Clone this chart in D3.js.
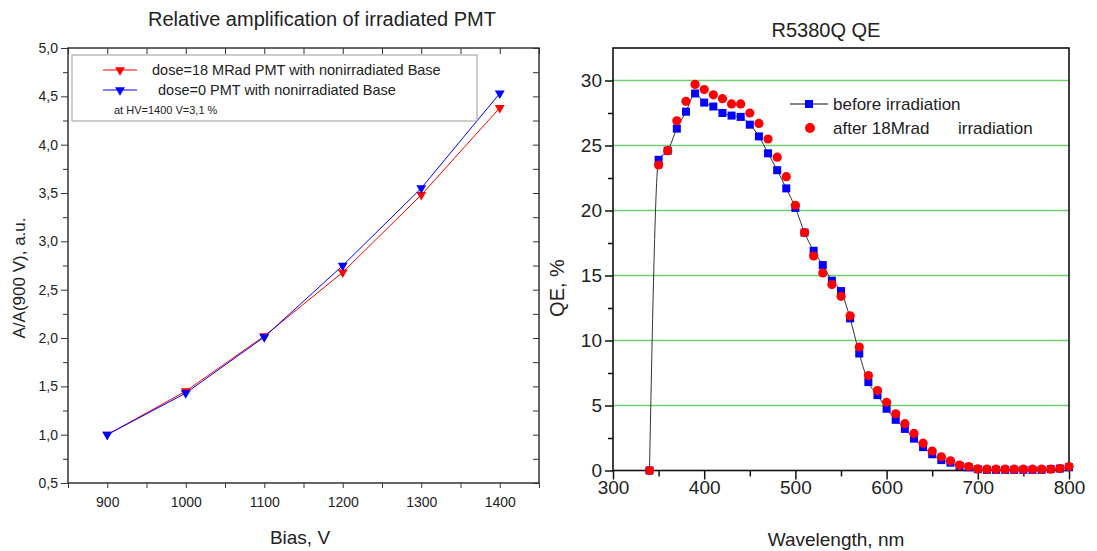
<!DOCTYPE html>
<meta charset="utf-8">
<script src="https://d3js.org/d3.v7.min.js"></script>
<style>
  body { margin: 0; background: #fff; }
  text { font-family: "Liberation Sans", Arial, sans-serif; fill: #222; }
</style>
<div id="charts"></div>
<script>

// ---- left chart: relative amplification vs bias
var bias = [900, 1000, 1100, 1200, 1300, 1400];
var ampIrradiated = [1.00, 1.45, 2.02, 2.68, 3.48, 4.38];
var ampReference = [1.00, 1.43, 2.01, 2.75, 3.55, 4.53];
var ampTicks = [0.5, 1.0, 1.5, 2.0, 2.5, 3.0, 3.5, 4.0, 4.5, 5.0];
var biasTicks = [900, 1000, 1100, 1200, 1300, 1400];

// ---- right chart: QE vs wavelength
var wavelength = [340, 350, 360, 370, 380, 390, 400, 410, 420, 430,
                  440, 450, 460, 470, 480, 490, 500, 510, 520, 530,
                  540, 550, 560, 570, 580, 590, 600, 610, 620, 630,
                  640, 650, 660, 670, 680, 690, 700, 710, 720, 730,
                  740, 750, 760, 770, 780, 790, 800];
var qeBefore = [0, 23.9, 24.6, 26.3, 27.6, 29.0, 28.3, 28.0, 27.5, 27.3,
                27.2, 26.6, 25.7, 24.4, 23.1, 21.7, 20.2, 18.3, 16.9, 15.8,
                14.6, 13.8, 11.7, 9.0, 6.8, 5.8, 4.75, 3.9, 3.2, 2.45,
                1.8, 1.25, 0.8, 0.6, 0.35, 0.25, 0.1, 0.05, 0.05, 0.05,
                0.05, 0.05, 0.05, 0.05, 0.1, 0.15, 0.25];
var qeAfter = [0, 23.5, 24.6, 26.9, 28.4, 29.7, 29.3, 28.9, 28.6, 28.2,
               28.2, 27.5, 26.7, 25.5, 24.1, 22.6, 20.4, 18.3, 16.5, 15.2,
               14.3, 13.4, 11.9, 9.5, 7.3, 6.15, 5.25, 4.36, 3.6, 2.85,
               2.1, 1.5, 1.05, 0.75, 0.42, 0.3, 0.12, 0.1, 0.1, 0.1,
               0.1, 0.1, 0.1, 0.1, 0.1, 0.15, 0.3];
var qeTicks = [0, 5, 10, 15, 20, 25, 30];
var wlTicks = [300, 400, 500, 600, 700, 800];

var svg = d3.select("#charts")
  .append("svg")
    .attr("width", 1097)
    .attr("height", 551);

function noDomain(g) { g.select(".domain").remove(); }

// ================= LEFT =================
var x1 = d3.scaleLinear().domain([850, 1450]).range([68, 539]);
var y1 = d3.scaleLinear().domain([0.5, 5.0]).range([483, 48]);
var comma = function(d) { return d3.format(".1f")(d).replace(".", ","); };

var left = svg.append("g");

var biasAll = d3.range(850, 1451, 50);
var ampAll = d3.range(0.5, 5.01, 0.25);

// bottom axis
left.append("g")
  .attr("transform", "translate(0," + y1(0.5) + ")")
  .call(d3.axisBottom(x1).tickValues(biasAll).tickSize(5).tickPadding(9)
    .tickFormat(function(d) { return biasTicks.indexOf(d) >= 0 ? d : ""; }))
  .call(noDomain)
  .call(function(g) {
    g.selectAll("line").attr("stroke", "#333");
    g.selectAll("text").style("font-size", "14px").attr("fill", "#333");
  });

// left axis
left.append("g")
  .attr("transform", "translate(" + x1(850) + ",0)")
  .call(d3.axisLeft(y1).tickValues(ampAll).tickPadding(4)
    .tickFormat(function(d) { return ampTicks.indexOf(+d.toFixed(2)) >= 0 ? comma(d) : ""; }))
  .call(noDomain)
  .call(function(g) {
    g.selectAll(".tick line")
      .attr("stroke", "#333")
      .attr("x2", function(d) { return ampTicks.indexOf(+d.toFixed(2)) >= 0 ? -7 : -5; });
    g.selectAll("text").style("font-size", "14px").attr("fill", "#333");
  });

// top and right inner ticks
left.append("g")
  .attr("transform", "translate(0," + y1(5) + ")")
  .call(d3.axisTop(x1).tickValues(biasAll).tickSize(-6).tickFormat(""))
  .call(noDomain)
  .selectAll("line").attr("stroke", "#333");
left.append("g")
  .attr("transform", "translate(" + x1(1450) + ",0)")
  .call(d3.axisRight(y1).tickValues(ampAll).tickSize(-6).tickFormat(""))
  .call(noDomain)
  .selectAll("line").attr("stroke", "#333");

// frame
left.append("rect")
  .attr("x", x1(850)).attr("y", y1(5))
  .attr("width", x1(1450) - x1(850)).attr("height", y1(0.5) - y1(5))
  .attr("fill", "none").attr("stroke", "#333").attr("stroke-width", 1.5);

var tri = d3.symbol().type(d3.symbolTriangle).size(42);
var series1 = [
  { vals: ampIrradiated, color: "#ff0000" },
  { vals: ampReference, color: "#0000ff" }
];
series1.forEach(function(s) {
  left.append("path")
    .datum(s.vals)
    .attr("fill", "none")
    .attr("stroke", s.color)
    .attr("stroke-width", 1)
    .attr("d", d3.line()
      .x(function(d, i) { return x1(bias[i]); })
      .y(function(d) { return y1(d); }));
  left.selectAll(null)
    .data(s.vals)
    .enter()
    .append("path")
      .attr("d", tri)
      .attr("fill", s.color)
      .attr("transform", function(d, i) {
        return "translate(" + x1(bias[i]) + "," + y1(d) + ") rotate(180)";
      });
});

// legend
left.append("rect")
  .attr("x", 72).attr("y", 55).attr("width", 405).attr("height", 66)
  .attr("fill", "#fff").attr("stroke", "#999").attr("stroke-width", 1);
var leg1 = [
  { label: "dose=18 MRad PMT with nonirradiated Base", color: "#ff0000", y: 70, tx: 152 },
  { label: "dose=0 PMT with nonirradiated Base", color: "#0000ff", y: 90, tx: 158 }
];
leg1.forEach(function(l) {
  left.append("line")
    .attr("x1", 103).attr("x2", 137).attr("y1", l.y).attr("y2", l.y)
    .attr("stroke", l.color).attr("stroke-width", 1.2);
  left.append("path")
    .attr("d", tri)
    .attr("fill", l.color)
    .attr("transform", "translate(120," + l.y + ") rotate(180)");
  left.append("text")
    .attr("x", l.tx).attr("y", l.y + 5)
    .style("font-size", "14.5px")
    .text(l.label);
});
left.append("text")
  .attr("x", 114).attr("y", 114)
  .style("font-size", "11px")
  .text("at HV=1400 V=3,1 %");

// titles
left.append("text")
  .attr("x", 322).attr("y", 26)
  .attr("text-anchor", "middle")
  .style("font-size", "20px")
  .text("Relative amplification of irradiated PMT");
left.append("text")
  .attr("x", 300).attr("y", 544)
  .attr("text-anchor", "middle")
  .style("font-size", "19px")
  .text("Bias, V");
left.append("text")
  .attr("transform", "translate(25,278) rotate(-90)")
  .attr("text-anchor", "middle")
  .style("font-size", "17px")
  .text("A/A(900 V), a.u.");

// ================= RIGHT =================
var x2 = d3.scaleLinear().domain([300, 800]).range([613, 1069]);
var y2 = d3.scaleLinear().domain([0, 32.5]).range([470.5, 48]);

var right = svg.append("g");

// green grid lines
right.selectAll("line.grid")
  .data(qeTicks.slice(1))
  .enter()
  .append("line")
    .attr("class", "grid")
    .attr("x1", x2(300)).attr("x2", x2(800))
    .attr("y1", function(d) { return y2(d); })
    .attr("y2", function(d) { return y2(d); })
    .attr("stroke", "#72cf72")
    .attr("stroke-width", 1.6);

var wlAll = d3.range(300, 801, 50);
var qeAll = d3.range(0, 32.5, 2.5);

right.append("g")
  .attr("transform", "translate(0," + y2(0) + ")")
  .call(d3.axisBottom(x2).tickValues(wlAll).tickPadding(4)
    .tickFormat(function(d) { return wlTicks.indexOf(d) >= 0 ? d : ""; }))
  .call(noDomain)
  .call(function(g) {
    g.selectAll(".tick line")
      .attr("stroke", "#111").attr("stroke-width", 1.5)
      .attr("y2", function(d) { return wlTicks.indexOf(d) >= 0 ? 9 : 6; });
    g.selectAll("text").style("font-size", "19px").attr("fill", "#333");
  });

right.append("g")
  .attr("transform", "translate(" + x2(300) + ",0)")
  .call(d3.axisLeft(y2).tickValues(qeAll).tickPadding(5)
    .tickFormat(function(d) { return qeTicks.indexOf(d) >= 0 ? d : ""; }))
  .call(noDomain)
  .call(function(g) {
    g.selectAll(".tick line")
      .attr("stroke", "#111").attr("stroke-width", 1.5)
      .attr("x2", function(d) { return qeTicks.indexOf(d) >= 0 ? -8 : -5; });
    g.selectAll("text").style("font-size", "19px").attr("fill", "#333");
  });

right.append("rect")
  .attr("x", x2(300)).attr("y", y2(32.5))
  .attr("width", x2(800) - x2(300)).attr("height", y2(0) - y2(32.5))
  .attr("fill", "none").attr("stroke", "#111").attr("stroke-width", 1.6);

// curve through "before" points
right.append("path")
  .datum(qeBefore)
  .attr("fill", "none")
  .attr("stroke", "#333")
  .attr("stroke-width", 1)
  .attr("d", d3.line()
    .x(function(d, i) { return x2(wavelength[i]); })
    .y(function(d) { return y2(d); })
    .curve(d3.curveMonotoneX));

right.selectAll("rect.before")
  .data(qeBefore)
  .enter()
  .append("rect")
    .attr("class", "before")
    .attr("x", function(d, i) { return x2(wavelength[i]) - 4; })
    .attr("y", function(d) { return y2(d) - 4; })
    .attr("width", 8).attr("height", 8)
    .attr("fill", "#0000ff");

right.selectAll("circle.after")
  .data(qeAfter)
  .enter()
  .append("circle")
    .attr("class", "after")
    .attr("cx", function(d, i) { return x2(wavelength[i]); })
    .attr("cy", function(d) { return y2(d); })
    .attr("r", 4.6)
    .attr("fill", "#ff0000");

// legend
right.append("line")
  .attr("x1", 790).attr("x2", 828).attr("y1", 104).attr("y2", 104)
  .attr("stroke", "#111").attr("stroke-width", 1.2);
right.append("rect")
  .attr("x", 805).attr("y", 100).attr("width", 8).attr("height", 8)
  .attr("fill", "#0000ff");
right.append("text")
  .attr("x", 833).attr("y", 110)
  .style("font-size", "17px")
  .text("before irradiation");
right.append("circle")
  .attr("cx", 810).attr("cy", 128).attr("r", 5)
  .attr("fill", "#ff0000");
right.append("text")
  .attr("x", 833).attr("y", 134)
  .style("font-size", "17px")
  .text("after 18Mrad");
right.append("text")
  .attr("x", 958).attr("y", 134)
  .style("font-size", "17px")
  .text("irradiation");

right.append("text")
  .attr("x", 826).attr("y", 37)
  .attr("text-anchor", "middle")
  .style("font-size", "20px")
  .text("R5380Q QE");
right.append("text")
  .attr("x", 836).attr("y", 546)
  .attr("text-anchor", "middle")
  .style("font-size", "19px")
  .text("Wavelength, nm");
right.append("text")
  .attr("transform", "translate(564,288) rotate(-90)")
  .attr("text-anchor", "middle")
  .style("font-size", "20px")
  .text("QE, %");

</script>
